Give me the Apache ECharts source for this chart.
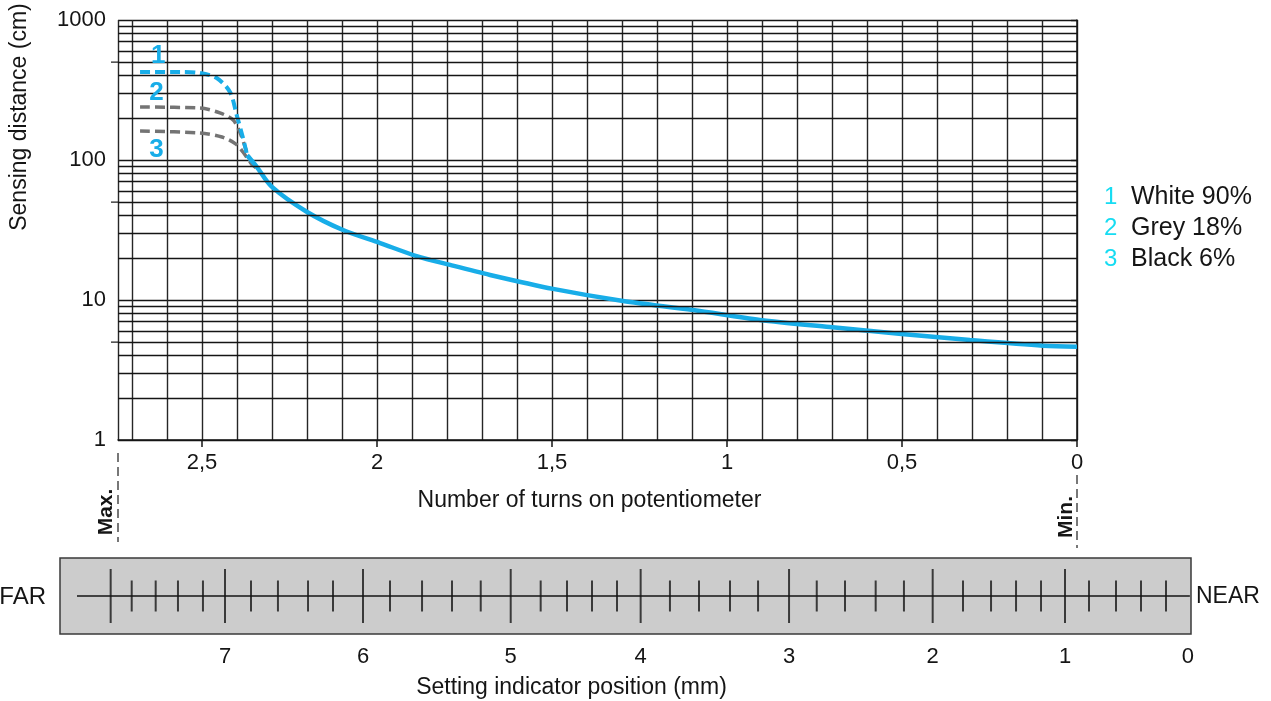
<!DOCTYPE html>
<html lang="en">
<head>
  <meta charset="UTF-8">
  <script src="https://cdn.jsdelivr.net/npm/echarts@6/dist/echarts.min.js"></script>
  <title>Sensing distance</title>
</head>
<body style="margin:0;background:#fff;">
  <div id="chart" style="width:1271px;height:701px;"></div>

  <script>
    // common part of the curve (turns on potentiometer -> sensing distance in cm)
    var commonTurns = [2.371, 2.344, 2.301, 2.201, 2.097, 1.991, 1.887, 1.791, 1.677, 1.497, 1.297, 1.097, 0.906, 0.706, 0.501, 0.306, 0.097, 0];
    var commonDist = [108, 89.6, 64.5, 42.7, 31.6, 25.5, 20.6, 17.8, 15.1, 12.0, 9.84, 8.48, 7.2, 6.41, 5.72, 5.18, 4.72, 4.64];

    // the three targets, only differing near max turns
    var whiteTurns = [2.677, 2.563, 2.506, 2.458, 2.420, 2.401, 2.383, 2.371];
    var whiteDist = [425, 425, 418, 385, 306, 210, 144, 108];
    var greyTurns = [2.677, 2.506, 2.449, 2.411, 2.391, 2.374, 2.357];
    var greyDist = [239, 235, 217, 193, 156, 118, 92];
    var blackTurns = [2.677, 2.506, 2.443, 2.403, 2.383, 2.363, 2.346];
    var blackDist = [161, 156, 146, 130, 114, 97, 88];

    var legendNames = ['White 90%', 'Grey 18%', 'Black 6%'];
    var curveNumbers = ['1', '2', '3'];
    var numberAt = [[2.625, 425], [2.63, 238], [2.63, 160]];

    // axes
    var turnsMax = 2.74;
    var turnTicks = [0, 0.5, 1, 1.5, 2, 2.5];
    var distMinorLines = [2, 3, 4, 5, 6, 7, 8, 9, 20, 30, 40, 50, 60, 70, 80, 90, 200, 300, 400, 500, 600, 700, 800, 900];
    var distHalfTicks = [5, 50, 500];

    // setting indicator ruler, positions in % of ruler length from the FAR end
    var rulerMajor = [4.48, 14.59, 26.79, 39.85, 51.34, 64.46, 77.16, 88.86];
    var rulerMinor = [6.34, 8.46, 10.43, 12.64, 16.89, 19.27, 21.93, 24.14,
      29.18, 32.01, 34.66, 37.2, 42.5, 44.83, 47.04, 49.25,
      53.93, 56.5, 59.24, 61.72, 66.91, 69.41, 72.12, 74.62,
      79.84, 82.32, 84.53, 86.74, 90.98, 93.37, 95.58, 97.79];
    var rulerLabelPos = [14.59, 26.79, 39.85, 51.34, 64.46, 77.16, 88.86, 99.73];
    var rulerLabels = ['7', '6', '5', '4', '3', '2', '1', '0'];
    var rulerLine = [1.5, 99.9];

    var blue = '#18ade8';
    var grey = '#747474';
    var cyan = '#16dcf2';
    var ink = '#151515';
    var font = '"Liberation Sans", Arial, sans-serif';

    function pairs(xs, ys) {
      return xs.map(function (x, i) { return [x, ys[i]]; });
    }

    // the little blue 1 / 2 / 3 next to each curve
    function numberMark(i, pos, dist) {
      return {
        silent: true,
        symbol: 'circle',
        symbolSize: 1,
        itemStyle: { color: 'rgba(0,0,0,0)' },
        label: {
          show: true,
          position: pos,
          distance: dist,
          formatter: curveNumbers[i],
          color: blue,
          fontSize: 26,
          fontWeight: 'bold',
          fontFamily: font
        },
        data: [{ coord: numberAt[i] }]
      };
    }

    var chart = echarts.init(document.getElementById('chart'));

    var option = {
      animation: false,
      textStyle: { fontFamily: font },
      grid: [
        { left: 118, top: 20, width: 959, height: 420 },
        { left: 118, top: 450, width: 959, height: 100 },
        { left: 60, top: 558, width: 1131, height: 76, show: true,
          backgroundColor: '#cccccc', borderColor: '#3a3a3a', borderWidth: 1.5 }
      ],
      legend: {
        orient: 'vertical',
        left: 1099,
        top: 185,
        padding: 0,
        icon: 'none',
        itemWidth: 0,
        itemHeight: 10,
        itemGap: 6,
        data: legendNames,
        formatter: function (name) {
          return '{n|' + curveNumbers[legendNames.indexOf(name)] + '}' + name;
        },
        textStyle: {
          fontSize: 25,
          color: ink,
          fontFamily: font,
          rich: { n: { color: cyan, fontSize: 24, width: 27, fontFamily: font } }
        }
      },
      xAxis: [
        {
          // grid lines every 0.1 turn
          gridIndex: 0, type: 'value', inverse: true, min: 0, max: turnsMax, interval: 0.1,
          axisLine: { lineStyle: { color: ink, width: 1.5 } },
          axisTick: { show: false },
          axisLabel: { show: false },
          splitLine: { show: true, lineStyle: { color: '#262626', width: 1.4 } }
        },
        {
          gridIndex: 0, type: 'value', position: 'bottom', inverse: true, min: 0, max: turnsMax,
          axisLine: { show: false },
          axisTick: { show: true, customValues: turnTicks, length: 7, lineStyle: { color: ink, width: 1.5 } },
          axisLabel: {
            customValues: turnTicks, fontSize: 22, color: ink, margin: 12,
            formatter: function (v) { return String(v).replace('.', ','); }
          },
          splitLine: { show: false },
          name: 'Number of turns on potentiometer',
          nameLocation: 'middle',
          nameGap: 49,
          nameTextStyle: { fontSize: 23, color: ink, padding: [0, 16, 0, 0] }
        },
        {
          gridIndex: 1, type: 'value', inverse: true, min: 0, max: turnsMax, show: false
        },
        {
          gridIndex: 2, type: 'value', min: 0, max: 100,
          axisLine: { show: false },
          axisTick: { show: false },
          splitLine: { show: false },
          axisLabel: {
            customValues: rulerLabelPos, fontSize: 22, color: ink, margin: 12,
            formatter: function (v) { return rulerLabels[rulerLabelPos.indexOf(v)]; }
          },
          name: 'Setting indicator position (mm)',
          nameLocation: 'middle',
          nameGap: 42,
          nameTextStyle: { fontSize: 23, color: ink, padding: [0, 108, 0, 0] }
        }
      ],
      yAxis: [
        {
          gridIndex: 0, type: 'log', logBase: 10, min: 1, max: 1000,
          axisLine: { show: true, lineStyle: { color: ink, width: 1.5 } },
          axisTick: { show: true, length: 6, lineStyle: { color: ink, width: 1.4 } },
          axisLabel: { fontSize: 22, color: ink, margin: 12,
            formatter: function (v) { return String(v); } },
          splitLine: { show: true, lineStyle: { color: ink, width: 1.4 } }
        },
        { gridIndex: 1, type: 'value', min: 0, max: 100, inverse: true, show: false },
        { gridIndex: 2, type: 'value', min: -1, max: 1, show: false }
      ],
      graphic: [
        { type: 'text', x: 20, y: 117, rotation: Math.PI / 2,
          style: { text: 'Sensing distance (cm)', font: '23px ' + font, fill: ink,
            align: 'center', verticalAlign: 'middle' } },
        { type: 'text', x: 106, y: 512, rotation: Math.PI / 2,
          style: { text: 'Max.', font: 'bold 21px ' + font, fill: ink,
            align: 'center', verticalAlign: 'middle' } },
        { type: 'text', x: 1066, y: 517, rotation: Math.PI / 2,
          style: { text: 'Min.', font: 'bold 21px ' + font, fill: ink,
            align: 'center', verticalAlign: 'middle' } },
        { type: 'text', x: 46, y: 597,
          style: { text: 'FAR', font: '24px ' + font, fill: ink,
            align: 'right', verticalAlign: 'middle' } },
        { type: 'text', x: 1196, y: 597,
          style: { text: 'NEAR', font: '23px ' + font, fill: ink,
            align: 'left', verticalAlign: 'middle' } }
      ],
      series: [
        {
          name: 'grid',
          type: 'line',
          xAxisIndex: 0, yAxisIndex: 0,
          data: [],
          silent: true,
          markLine: {
            silent: true,
            symbol: 'none',
            label: { show: false },
            lineStyle: { color: ink, width: 1.4, type: 'solid' },
            data: distMinorLines.map(function (v) { return { yAxis: v }; })
          }
        },
        {
          name: 'half ticks',
          type: 'scatter',
          xAxisIndex: 0, yAxisIndex: 0,
          silent: true,
          symbol: 'rect',
          symbolSize: [7, 1.5],
          symbolOffset: [-3.5, 0],
          itemStyle: { color: ink },
          data: distHalfTicks.map(function (v) { return [turnsMax, v]; })
        },
        {
          name: legendNames[2],
          type: 'line',
          xAxisIndex: 0, yAxisIndex: 0,
          showSymbol: false, smooth: 0.3,
          lineStyle: { color: grey, width: 3.5, type: [10, 5] },
          itemStyle: { color: cyan },
          data: pairs(blackTurns, blackDist),
          markPoint: numberMark(2, 'bottom', 5)
        },
        {
          name: legendNames[1],
          type: 'line',
          xAxisIndex: 0, yAxisIndex: 0,
          showSymbol: false, smooth: 0.3,
          lineStyle: { color: grey, width: 3.5, type: [10, 5] },
          itemStyle: { color: cyan },
          data: pairs(greyTurns, greyDist),
          markPoint: numberMark(1, 'top', 1)
        },
        {
          name: legendNames[0],
          type: 'line',
          xAxisIndex: 0, yAxisIndex: 0,
          showSymbol: false, smooth: 0.3,
          lineStyle: { color: blue, width: 4, type: [10, 5] },
          itemStyle: { color: cyan },
          data: pairs(whiteTurns, whiteDist),
          markPoint: numberMark(0, 'top', 3)
        },
        {
          name: 'common',
          type: 'line',
          xAxisIndex: 0, yAxisIndex: 0,
          showSymbol: false, smooth: 0.3,
          lineStyle: { color: blue, width: 4.5 },
          data: pairs(commonTurns, commonDist)
        },
        {
          // Max. / Min. dashed markers under the chart
          name: 'limits',
          type: 'line',
          xAxisIndex: 2, yAxisIndex: 1,
          data: [],
          silent: true,
          markLine: {
            silent: true,
            symbol: 'none',
            label: { show: false },
            lineStyle: { color: '#777', width: 2, type: [9, 5] },
            data: [
              [{ coord: [turnsMax, 3] }, { coord: [turnsMax, 92] }],
              [{ coord: [0, 25] }, { coord: [0, 98] }]
            ]
          }
        },
        {
          name: 'ruler line',
          type: 'line',
          xAxisIndex: 3, yAxisIndex: 2,
          silent: true, showSymbol: false,
          lineStyle: { color: ink, width: 1.5 },
          data: [[rulerLine[0], 0], [rulerLine[1], 0]]
        },
        {
          name: 'ruler major',
          type: 'scatter',
          xAxisIndex: 3, yAxisIndex: 2,
          silent: true,
          symbol: 'rect',
          symbolSize: [2, 54],
          itemStyle: { color: ink },
          data: rulerMajor.map(function (v) { return [v, 0]; })
        },
        {
          name: 'ruler minor',
          type: 'scatter',
          xAxisIndex: 3, yAxisIndex: 2,
          silent: true,
          symbol: 'rect',
          symbolSize: [2, 31],
          itemStyle: { color: ink },
          data: rulerMinor.map(function (v) { return [v, 0]; })
        }
      ]
    };

    chart.setOption(option);
  </script>
</body>
</html>
